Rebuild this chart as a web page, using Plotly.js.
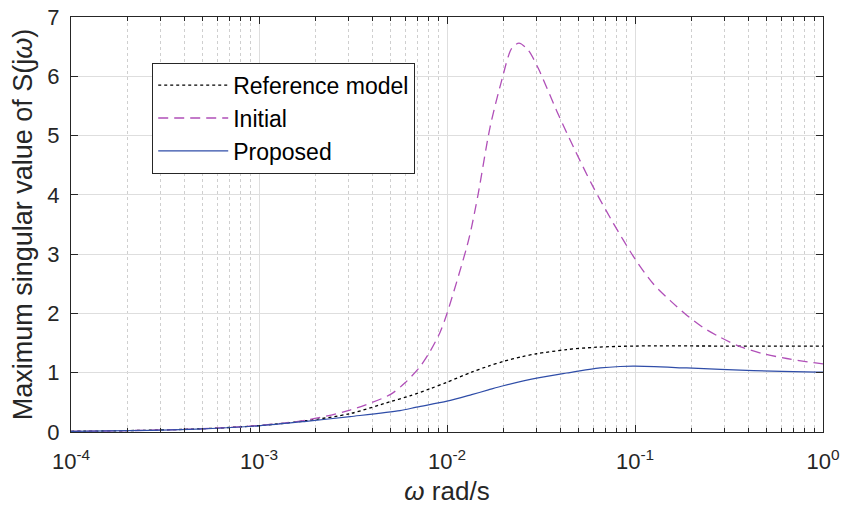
<!DOCTYPE html>
<html>
<head>
<meta charset="utf-8">
<script src="https://cdn.plot.ly/plotly-3.0.1.min.js"></script>
<style>html,body{margin:0;padding:0;background:#fff;}#chart{width:844px;height:516px;}</style>
</head>
<body>
<div id="chart"></div>
<script>
// Reference model (dotted black)
const refW = [1e-4, 2e-4, 5e-4, 1e-3, 0.00178, 0.00305, 0.00498, 0.00635, 0.00813, 0.01, 0.01352, 0.0166, 0.01995, 0.025, 0.03, 0.04335, 0.0625, 0.1, 0.3, 1];
const refS = [0.012, 0.023, 0.055, 0.108, 0.19, 0.31, 0.51, 0.61, 0.73, 0.84, 1.01, 1.11, 1.19, 1.27, 1.32, 1.39, 1.43, 1.45, 1.45, 1.45];

// Initial (dashed magenta)
const iniW = [1e-4, 2e-4, 5e-4, 1e-3, 0.00178, 0.00305, 0.00498, 0.00598, 0.00718, 0.00813, 0.00918, 0.01, 0.01274, 0.01352, 0.01466, 0.01694, 0.01954, 0.02208, 0.02415, 0.02704, 0.03062, 0.03828, 0.04699, 0.05998, 0.07674, 0.1, 0.125, 0.1535, 0.1884, 0.2307, 0.2831, 0.3622, 0.4808, 0.6412, 0.8872, 1];
const iniS = [0.012, 0.023, 0.055, 0.11, 0.2, 0.37, 0.63, 0.83, 1.10, 1.36, 1.68, 2.0, 3.12, 3.46, 4.02, 5.14, 5.93, 6.47, 6.56, 6.44, 6.13, 5.42, 4.81, 4.13, 3.52, 2.92, 2.50, 2.22, 1.97, 1.76, 1.60, 1.44, 1.32, 1.24, 1.17, 1.15];

// Proposed (solid blue)
const proW = [1e-4, 2e-4, 5e-4, 1e-3, 0.00178, 0.00305, 0.00562, 0.00689, 0.01, 0.01352, 0.0166, 0.01995, 0.03, 0.04335, 0.0652, 0.0832, 0.1, 0.1884, 0.4256, 0.929, 1];
const proS = [0.012, 0.023, 0.054, 0.105, 0.18, 0.26, 0.36, 0.42, 0.52, 0.63, 0.71, 0.78, 0.91, 0.995, 1.08, 1.105, 1.11, 1.08, 1.035, 1.01, 1.01];

const xTickVals = [1e-4, 1e-3, 1e-2, 1e-1, 1];
const xTickText = ['10<sup>-4</sup>', '10<sup>-3</sup>', '10<sup>-2</sup>', '10<sup>-1</sup>', '10<sup>0</sup>'];
const yTickVals = [0, 1, 2, 3, 4, 5, 6, 7];

const FONT = 'Liberation Sans, Arial, Helvetica, sans-serif';
const AX = '#262626';

const traces = [
  {x: refW, y: refS, name: 'Reference model', mode: 'lines', line: {color: '#000000', width: 1.3, dash: 'dot', shape: 'spline', smoothing: 0.8}},
  {x: iniW, y: iniS, name: 'Initial', mode: 'lines', line: {color: '#B04FB8', width: 1.3, dash: '10px,6px', shape: 'spline', smoothing: 0.8}},
  {x: proW, y: proS, name: 'Proposed', mode: 'lines', line: {color: '#2F4DA8', width: 1.2, shape: 'spline', smoothing: 0.8}}
];

const layout = {
  width: 844, height: 516,
  margin: {l: 71, r: 21, t: 16.5, b: 84.3},
  paper_bgcolor: '#ffffff', plot_bgcolor: '#ffffff',
  font: {family: FONT, color: AX, size: 22},
  showlegend: true,
  legend: {
    x: 0.108, y: 0.89, xanchor: 'left', yanchor: 'top',
    bgcolor: '#ffffff', bordercolor: AX, borderwidth: 1,
    font: {family: FONT, size: 23, color: '#000000'},
    itemwidth: 70, tracegroupgap: 0
  },
  xaxis: {
    type: 'log', range: [-4, 0],
    tickvals: xTickVals, ticktext: xTickText,
    tickfont: {family: FONT, size: 22, color: AX},
    ticks: 'inside', ticklen: 7, tickcolor: AX, tickwidth: 1,
    showline: true, linecolor: AX, linewidth: 1, mirror: 'ticks',
    showgrid: true, gridcolor: '#dedede', gridwidth: 1,
    zeroline: false,
    ticklabelstandoff: 10,
    minor: {dtick: 'D1', showgrid: true, gridcolor: '#cfcfcf', griddash: 'dot', gridwidth: 1, ticks: 'inside', ticklen: 4, tickcolor: AX},
    title: {text: '<i>ω</i> rad/s', font: {family: FONT, size: 26, color: AX}, standoff: 8}
  },
  yaxis: {
    range: [0, 7],
    tickvals: yTickVals,
    tickfont: {family: FONT, size: 22, color: AX},
    ticks: 'inside', ticklen: 7, tickcolor: AX, tickwidth: 1,
    showline: true, linecolor: AX, linewidth: 1, mirror: 'ticks',
    showgrid: true, gridcolor: '#dedede', gridwidth: 1,
    zeroline: false,
    ticklabelstandoff: 6,
    title: {text: 'Maximum singular value of S(j<i>ω</i>)', font: {family: FONT, size: 27, color: AX}, standoff: 6}
  }
};

Plotly.newPlot('chart', traces, layout, {displayModeBar: false, staticPlot: true});
</script>
</body>
</html>
